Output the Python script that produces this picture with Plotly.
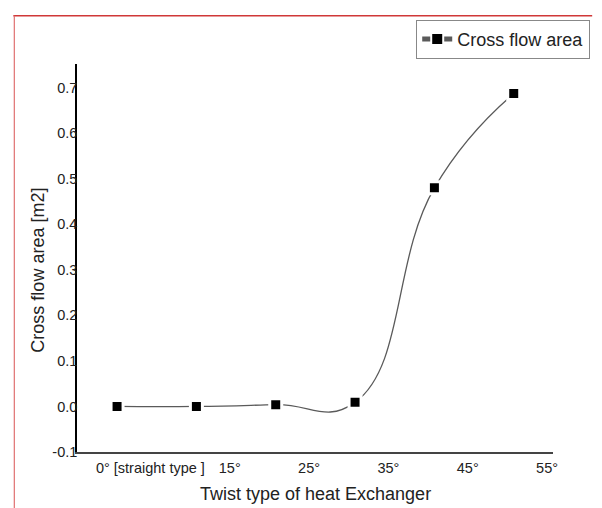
import plotly.graph_objects as go

# ---- data ----
twist_x = [0.8, 10.8, 20.8, 30.8, 40.8, 50.8]
cross_flow_area = [0.0, 0.0, 0.004, 0.009, 0.48, 0.687]
tick_vals = [5, 15, 25, 35, 45, 55]
tick_text = ["0° [straight type ]", "15°", "25°", "35°", "45°", "55°"]
y_ticks = [-0.1, 0.0, 0.1, 0.2, 0.3, 0.4, 0.5, 0.6, 0.7]
y_tick_text = ["-0.1", "0.0", "0.1", "0.2", "0.3", "0.4", "0.5", "0.6", "0.7"]

FONT = "Liberation Sans, Arial, sans-serif"

fig = go.Figure()
fig.add_trace(go.Scatter(
    x=twist_x, y=cross_flow_area,
    mode="lines+markers",
    name="Cross flow area",
    line=dict(color="#5a5a5a", width=1.3, shape="spline", smoothing=1.3),
    marker=dict(symbol="square", size=12, color="black",
                line=dict(color="white", width=3)),
))

# the page body has an 8px margin, so the figure is shifted by OFF
OFF = 8
W, H = 602 - OFF, 508 - OFF
L, R, T, B = 77 - OFF, 39, 58 - OFF, 56
pw, ph = W - L - R, H - T - B

def px2x(px):
    return (px - OFF - L) / pw

def py2y(py):
    return (H - B - (py - OFF)) / ph

fig.update_layout(
    width=W, height=H,
    margin=dict(l=L, r=R, t=T, b=B),
    paper_bgcolor="white", plot_bgcolor="white",
    font=dict(family=FONT, color="#222222", size=14),
    showlegend=True,
    legend=dict(
        x=px2x(601), y=py2y(13), xanchor="right", yanchor="top",
        bordercolor="#888888", borderwidth=1, bgcolor="white",
        font=dict(size=18, family=FONT, color="#222222"),
        tracegroupgap=0, itemsizing="constant",
    ),
    xaxis=dict(
        range=[-4.25, 55.75], tickmode="array",
        tickvals=tick_vals, ticktext=tick_text,
        showgrid=False, zeroline=False, showline=True,
        linecolor="#444444", linewidth=2, ticks="",
        tickfont=dict(size=14.5, family=FONT, color="#222222"),
        ticklabelstandoff=2,
    ),
    yaxis=dict(
        range=[-0.1, 0.752], tickmode="array",
        tickvals=y_ticks, ticktext=y_tick_text,
        showgrid=False, zeroline=False, showline=True,
        linecolor="black", linewidth=1.5, ticks="",
        tickfont=dict(size=14.5, family=FONT, color="#222222"),
        ticklabelstandoff=-5,
    ),
    annotations=[
        dict(text="Twist type of heat Exchanger", xref="paper", yref="paper",
             x=px2x(320), y=py2y(495), showarrow=False,
             xanchor="center", yanchor="middle",
             font=dict(size=18, family=FONT, color="#222222")),
        dict(text="Cross flow area [m2]", xref="paper", yref="paper",
             x=px2x(37), y=py2y(267), showarrow=False, textangle=-90,
             xanchor="center", yanchor="middle",
             font=dict(size=18, family=FONT, color="#222222")),
    ],
    shapes=[
        dict(type="line", xref="paper", yref="paper",
             x0=px2x(12), x1=px2x(603), y0=py2y(9), y1=py2y(9),
             line=dict(color="#d03838", width=1.5)),
        dict(type="line", xref="paper", yref="paper",
             x0=px2x(13), x1=px2x(13), y0=py2y(9), y1=py2y(510),
             line=dict(color="#e07070", width=1.2)),
    ],
)

fig.write_html("out.html")
